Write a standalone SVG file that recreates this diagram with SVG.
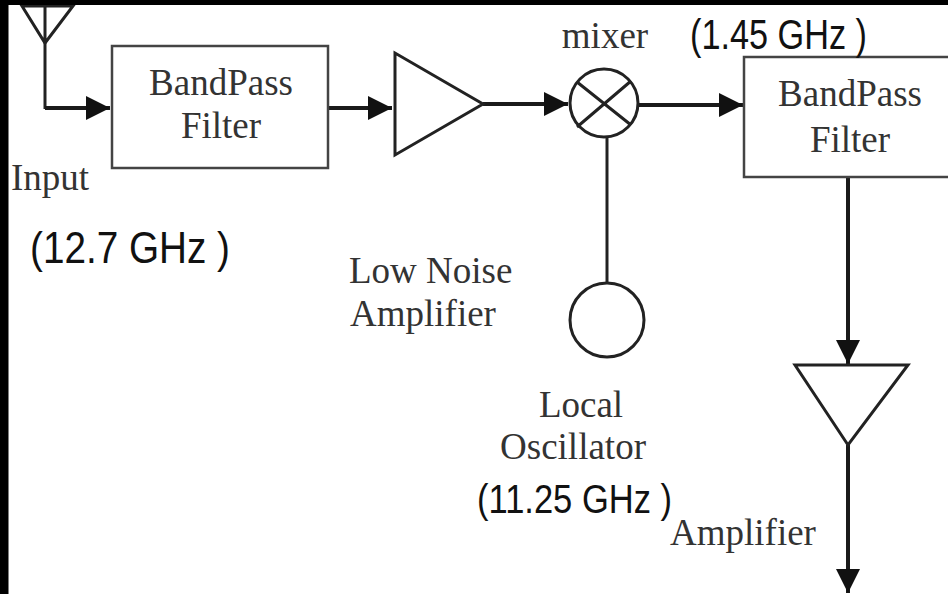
<svg xmlns="http://www.w3.org/2000/svg" width="948" height="594" viewBox="0 0 948 594">
<style>
.l{fill:none;stroke:#222;stroke-width:3}
.b{fill:#fff;stroke:#444;stroke-width:2.5}
.s{fill:#fff;stroke:#222;stroke-width:3}
.w{stroke:#1a1a1a;stroke-width:4;fill:none}
.n{stroke:#222;stroke-width:3;fill:none}
.t{font-family:"Liberation Serif",serif;font-size:37px;fill:#333}
.h{font-family:"Liberation Sans",sans-serif;fill:#111}
.m{text-anchor:middle}
</style>
<defs>
<marker id="a" markerUnits="userSpaceOnUse" markerWidth="24" markerHeight="24" refX="24" refY="12" orient="auto"><path d="M0 0L24 12L0 24Z" fill="#111"/></marker>
</defs>
<rect width="948" height="594" fill="#fff"/>
<g id="connectors">
<path class="n" d="M45 40V109"/>
<path class="w" d="M45 108H110" marker-end="url(#a)"/>
<path class="w" d="M326 108H392" marker-end="url(#a)"/>
<path class="w" d="M483 104H568" marker-end="url(#a)"/>
<path class="w" d="M639 105H743" marker-end="url(#a)"/>
<path class="n" d="M607 137V283"/>
<path class="w" d="M848 177V364" marker-end="url(#a)"/>
<path class="w" d="M848 445V593" marker-end="url(#a)"/>
</g>
<g id="antenna"><path class="l" d="M22 6H73L45 43ZM45 6V43"/></g>
<g id="filter1"><rect class="b" x="112" y="46" width="216" height="122"/>
<text class="t m" x="221" y="95">BandPass</text><text class="t m" x="221" y="138">Filter</text></g>
<g id="input-label"><text class="t" x="11" y="190">Input</text></g>
<g id="input-frequency"><text class="h" font-size="45" x="30" y="263" textLength="200" lengthAdjust="spacingAndGlyphs">(12.7 GHz )</text></g>
<g id="lna"><path class="s" d="M395 53V155L483 104Z"/></g>
<g id="lna-label"><text class="t" x="349" y="283">Low Noise</text><text class="t" x="350" y="326">Amplifier</text></g>
<g id="mixer"><circle class="s" cx="604" cy="103" r="34"/><path class="l" d="M577 82L631 125M631 81L577 127"/>
<text class="t m" x="605" y="48">mixer</text></g>
<g id="filter2"><rect class="b" x="744" y="57" width="208" height="120"/>
<text class="t m" x="850" y="106">BandPass</text><text class="t m" x="850" y="152">Filter</text></g>
<g id="frequency-if"><text class="h" font-size="42" x="690" y="49" textLength="177" lengthAdjust="spacingAndGlyphs">(1.45 GHz )</text></g>
<g id="oscillator"><circle class="s" cx="607" cy="320" r="37"/></g>
<g id="oscillator-label"><text class="t m" x="581" y="417">Local</text><text class="t m" x="573" y="459">Oscillator</text></g>
<g id="frequency-lo"><text class="h" font-size="41" x="477" y="513" textLength="195" lengthAdjust="spacingAndGlyphs">(11.25 GHz )</text></g>
<g id="amplifier"><path class="s" d="M795 365H908L848 445Z"/></g>
<g id="amplifier-label"><text class="t" x="670" y="545">Amplifier</text></g>
<path d="M0 0H948V5H8.500V594H0Z" fill="#000"/>
</svg>
